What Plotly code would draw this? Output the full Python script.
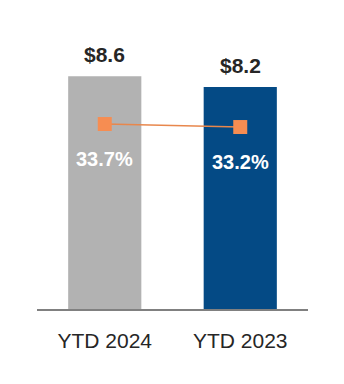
import plotly.graph_objects as go

# Year-to-date totals and margins
periods = ["YTD 2024", "YTD 2023"]
revenue = [8.6, 8.2]
margin_pct = [33.7, 33.2]
revenue_labels = ["$8.6", "$8.2"]
margin_labels = ["33.7%", "33.2%"]
bar_colors = ["#b2b2b2", "#044a85"]

FONT = "Liberation Sans, Arial, sans-serif"

fig = go.Figure()

fig.add_trace(go.Bar(
    x=periods, y=revenue,
    marker=dict(color=bar_colors, line=dict(width=0)),
    width=0.54,
    hoverinfo="skip",
))

fig.add_trace(go.Scatter(
    x=periods, y=margin_pct, yaxis="y2",
    mode="lines+markers",
    line=dict(color="#e8874c", width=1.5),
    marker=dict(symbol="square", size=14, color="#f68d52"),
    hoverinfo="skip",
))

annotations = []
for p, v, t in zip(periods, revenue, revenue_labels):
    annotations.append(dict(
        x=p, y=v, xref="x", yref="y", text=t, showarrow=False,
        yanchor="bottom", yshift=8,
        font=dict(family=FONT, size=21, color="#262626", weight="bold"),
    ))
for p, v, t in zip(periods, margin_pct, margin_labels):
    annotations.append(dict(
        x=p, y=v, xref="x", yref="y2", text=t, showarrow=False,
        yanchor="middle", yshift=-35,
        font=dict(family=FONT, size=20, color="#ffffff", weight="bold"),
    ))

fig.update_layout(
    width=344, height=384,
    margin=dict(l=37, r=36, t=20, b=75),
    paper_bgcolor="white", plot_bgcolor="white",
    showlegend=False,
    font=dict(family=FONT),
    xaxis=dict(
        type="category", range=[-0.5, 1.5],
        showline=True, linecolor="#808080", linewidth=2,
        showgrid=False, ticks="", ticklen=0,
        ticklabelstandoff=12,
        tickfont=dict(family=FONT, size=21, color="#262626"),
    ),
    yaxis=dict(range=[0, 10.68], visible=False, showgrid=False),
    yaxis2=dict(range=[2.85, 51.05], overlaying="y", visible=False, showgrid=False),
    annotations=annotations,
)

fig.write_html("out.html")
